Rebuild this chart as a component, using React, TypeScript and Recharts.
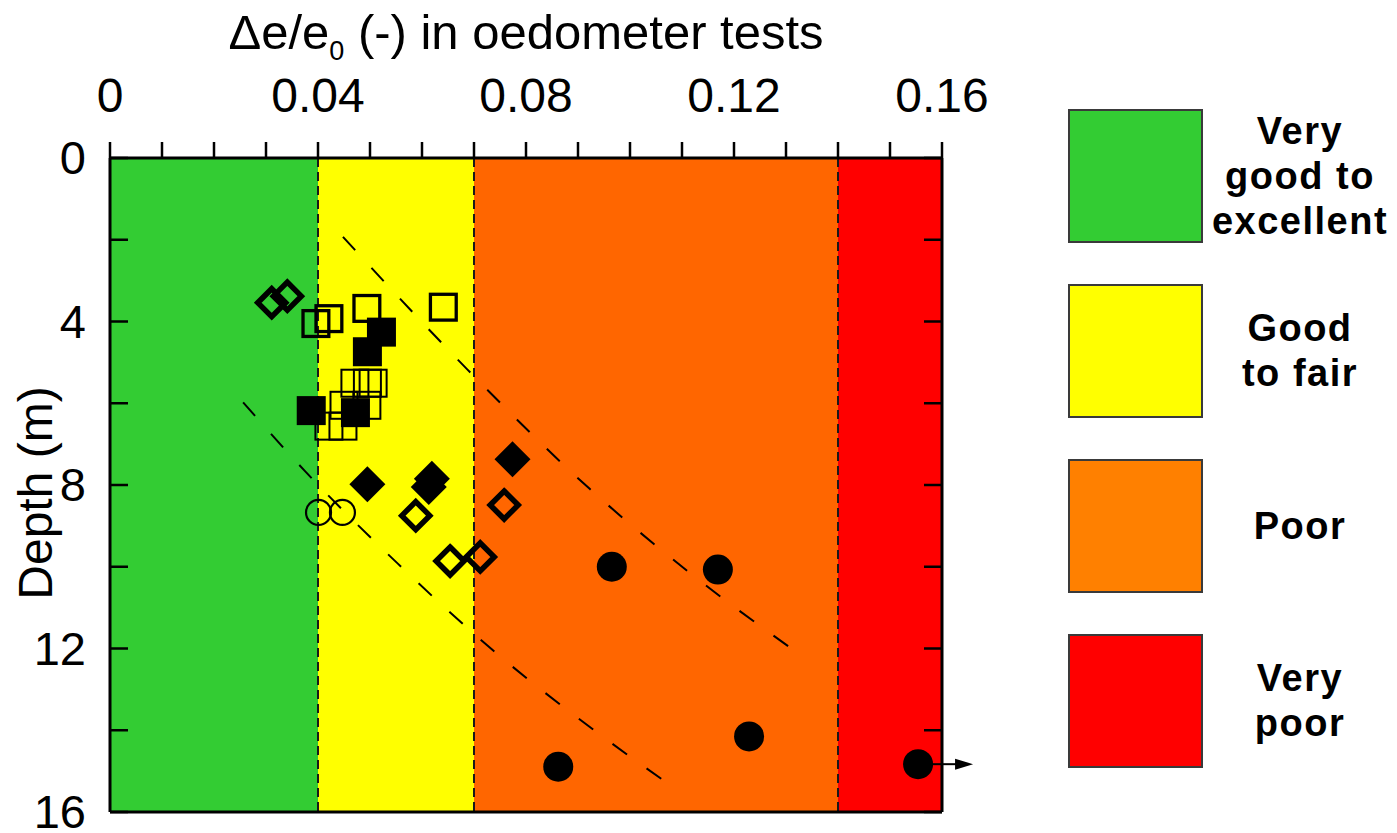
import React from 'react';
import {
  ScatterChart,
  Scatter,
  XAxis,
  YAxis,
  ReferenceArea,
  ReferenceLine,
  Legend,
} from 'recharts';

const FONT = '"Liberation Sans", Arial, Helvetica, sans-serif';

// ---------- axis ticks ----------
const xMinorTicks = [0, 0.01, 0.02, 0.03, 0.04, 0.05, 0.06, 0.07, 0.08, 0.09, 0.1, 0.11, 0.12, 0.13, 0.14, 0.15, 0.16];
const xLabelTicks = [0, 0.04, 0.08, 0.12, 0.16];
const yMinorTicks = [0, 2, 4, 6, 8, 10, 12, 14, 16];
const yLabelTicks = [0, 4, 8, 12, 16];

// ---------- quality classes ----------
const bandEdges = [0, 0.04, 0.07, 0.14, 0.16];
const bandColors = ['#33CC33', '#FFFF00', '#FF6600', '#FF0000'];
const boundaryLines = [0.04, 0.07, 0.14];
const legendLabels = [['Very', 'good to', 'excellent'], ['Good', 'to fair'], ['Poor'], ['Very', 'poor']];
const legendColors = ['#33CC33', '#FFFF00', '#FF8000', '#FF0000'];

// ---------- data (strain = Δe/e0, depth in m) ----------
const upperTrend = [
  { strain: 0.0448, depth: 1.93 },
  { strain: 0.0687, depth: 5.17 },
  { strain: 0.0923, depth: 8.1 },
  { strain: 0.1112, depth: 10.12 },
  { strain: 0.1327, depth: 12.15 },
];
const lowerTrend = [
  { strain: 0.0256, depth: 5.98 },
  { strain: 0.0375, depth: 7.66 },
  { strain: 0.0554, depth: 9.93 },
  { strain: 0.0737, depth: 12.05 },
  { strain: 0.0933, depth: 14.02 },
  { strain: 0.1077, depth: 15.34 },
];
const smallOpenSquares = [
  { strain: 0.0471, depth: 5.51 },
  { strain: 0.0495, depth: 5.51 },
  { strain: 0.0506, depth: 5.51 },
  { strain: 0.045, depth: 6.05 },
  { strain: 0.0494, depth: 6.05 },
  { strain: 0.0421, depth: 6.56 },
  { strain: 0.0448, depth: 6.56 },
];
const openSquares = [
  { strain: 0.0396, depth: 4.05 },
  { strain: 0.0421, depth: 3.93 },
  { strain: 0.0494, depth: 3.68 },
  { strain: 0.0641, depth: 3.65 },
];
const openCircles = [
  { strain: 0.0401, depth: 8.67 },
  { strain: 0.0447, depth: 8.67 },
];
const openDiamonds = [
  { strain: 0.0311, depth: 3.54 },
  { strain: 0.0341, depth: 3.38 },
  { strain: 0.0588, depth: 8.75 },
  { strain: 0.0758, depth: 8.49 },
  { strain: 0.0654, depth: 9.86 },
  { strain: 0.0712, depth: 9.76 },
];
const filledSquares = [
  { strain: 0.0522, depth: 4.26 },
  { strain: 0.0495, depth: 4.74 },
  { strain: 0.0387, depth: 6.18 },
  { strain: 0.0472, depth: 6.23 },
];
const filledDiamonds = [
  { strain: 0.0495, depth: 7.98 },
  { strain: 0.0619, depth: 7.85 },
  { strain: 0.0613, depth: 8.05 },
  { strain: 0.0774, depth: 7.37 },
];
const filledCircles = [
  { strain: 0.0965, depth: 10.0 },
  { strain: 0.1169, depth: 10.07 },
  { strain: 0.1229, depth: 14.15 },
  { strain: 0.0862, depth: 14.89 },
];
const offScaleCircles = [{ strain: 0.1554, depth: 14.83 }];

// ---------- marker shapes ----------
const diamondPts = (cx: number, cy: number, r: number) =>
  `${cx},${cy - r} ${cx + r},${cy} ${cx},${cy + r} ${cx - r},${cy}`;

const OpenDiamond = (p: any) => (
  <polygon points={diamondPts(p.cx, p.cy, 14)} fill="none" stroke="#000" strokeWidth={5.5} />
);
const FilledDiamond = (p: any) => <polygon points={diamondPts(p.cx, p.cy, 18)} fill="#000" />;
const OpenSquare = (p: any) => (
  <rect x={p.cx - 12.9} y={p.cy - 12.9} width={25.8} height={25.8} fill="none" stroke="#000" strokeWidth={3.3} />
);
const SmallOpenSquare = (p: any) => (
  <rect x={p.cx - 13.5} y={p.cy - 13.5} width={27} height={27} fill="none" stroke="#000" strokeWidth={2} />
);
const FilledSquare = (p: any) => <rect x={p.cx - 14.5} y={p.cy - 14.5} width={29} height={29} fill="#000" />;
const OpenCircle = (p: any) => <circle cx={p.cx} cy={p.cy} r={12.5} fill="none" stroke="#000" strokeWidth={2.2} />;
const FilledCircle = (p: any) => <circle cx={p.cx} cy={p.cy} r={15} fill="#000" />;
const OffScaleCircle = (p: any) => (
  <g>
    <circle cx={p.cx} cy={p.cy} r={15} fill="#000" />
    <line x1={p.cx + 14} y1={p.cy} x2={p.cx + 40} y2={p.cy} stroke="#000" strokeWidth={2} />
    <polygon points={`${p.cx + 55},${p.cy} ${p.cx + 37},${p.cy - 5.5} ${p.cx + 37},${p.cy + 5.5}`} fill="#000" />
  </g>
);
const NoDot = () => <g />;

// ---------- ticks and titles ----------
const isLabel = (list: number[], v: number) => list.some((t) => Math.abs(t - v) < 1e-9);

const TopTick = (p: any) => {
  const v = p.payload?.value;
  if (!isLabel(xLabelTicks, v)) return <g />;
  return (
    <text x={p.x} y={p.y - 30} textAnchor="middle" fontSize={48} fontFamily={FONT} fill="#000">
      {String(v)}
    </text>
  );
};
const LeftTick = (p: any) => {
  const v = p.payload?.value;
  return (
    <g>
      <line x1={p.x} y1={p.y} x2={p.x + 18} y2={p.y} stroke="#000" strokeWidth={2.5} />
      {isLabel(yLabelTicks, v) && (
        <text x={p.x - 24} y={p.y + 16} textAnchor="end" fontSize={47} fontFamily={FONT} fill="#000">
          {String(v)}
        </text>
      )}
    </g>
  );
};
const RightTick = (p: any) => (
  <line x1={p.x} y1={p.y} x2={p.x - 18} y2={p.y} stroke="#000" strokeWidth={2.5} />
);

const XTitle = (props: any) => {
  const vb = props.viewBox || { x: 110, y: 98, width: 832, height: 60 };
  const cx = vb.x + vb.width / 2;
  const by = vb.y + vb.height - 109;
  return (
    <text x={cx} y={by} textAnchor="middle" fontSize={49} fontFamily={FONT} fill="#000">
      <tspan>Δe/e</tspan>
      <tspan fontSize={27} dy={11}>0</tspan>
      <tspan dy={-11}> (-) in oedometer tests</tspan>
    </text>
  );
};
const YTitle = (props: any) => {
  const vb = props.viewBox || { x: 50, y: 158, width: 60, height: 654 };
  const cx = vb.x + 2;
  const cy = vb.y + vb.height / 2 + 8;
  return (
    <text
      transform={`translate(${cx},${cy}) rotate(-90)`}
      textAnchor="middle"
      fontSize={48}
      fontFamily={FONT}
      fill="#000"
    >
      Depth (m)
    </text>
  );
};

const QualityLegend = () => (
  <div style={{ position: 'relative', width: 329, height: 660, fontFamily: FONT }}>
    {legendColors.map((c, i) => (
      <React.Fragment key={i}>
        <div
          style={{
            position: 'absolute',
            left: 0,
            top: i * 175,
            width: 135,
            height: 134,
            boxSizing: 'border-box',
            border: '2px solid #3a3a3a',
            background: c,
          }}
        />
        <div
          style={{
            position: 'absolute',
            left: 132,
            top: i * 175,
            width: 200,
            height: 134,
            display: 'flex',
            flexDirection: 'column',
            justifyContent: 'center',
            alignItems: 'center',
            fontWeight: 'bold',
            fontSize: 38,
            lineHeight: '45px',
            letterSpacing: 1.5,
            color: '#000',
            whiteSpace: 'nowrap',
          }}
        >
          {legendLabels[i].map((l, j) => (
            <div key={j}>{l}</div>
          ))}
        </div>
      </React.Fragment>
    ))}
  </div>
);

const axisLineStyle = { stroke: '#000', strokeWidth: 3 };

export default function App() {
  return (
    <div style={{ position: 'absolute', left: 0, top: 0, width: 1397, height: 833, background: '#fff' }}>
      <ScatterChart width={1397} height={833} margin={{ top: 98, left: 50, right: 445, bottom: 20 }}>
        <XAxis
          xAxisId="top"
          orientation="top"
          type="number"
          dataKey="strain"
          domain={[0, 0.16]}
          ticks={xMinorTicks}
          interval={0}
          height={60}
          tickSize={16}
          tickMargin={0}
          axisLine={axisLineStyle}
          tickLine={{ stroke: '#000', strokeWidth: 2.5 }}
          tick={TopTick}
          label={XTitle}
        />
        <XAxis
          xAxisId="bottom"
          orientation="bottom"
          type="number"
          dataKey="strain"
          domain={[0, 0.16]}
          height={1}
          tick={false}
          tickLine={false}
          axisLine={axisLineStyle}
        />
        <YAxis
          yAxisId="left"
          orientation="left"
          type="number"
          dataKey="depth"
          domain={[0, 16]}
          reversed
          ticks={yMinorTicks}
          interval={0}
          width={60}
          tickSize={0}
          tickMargin={0}
          tickLine={false}
          axisLine={axisLineStyle}
          tick={LeftTick}
          label={YTitle}
        />
        <YAxis
          yAxisId="right"
          orientation="right"
          type="number"
          dataKey="depth"
          domain={[0, 16]}
          reversed
          ticks={yMinorTicks}
          interval={0}
          width={10}
          tickSize={0}
          tickMargin={0}
          tickLine={false}
          axisLine={axisLineStyle}
          tick={RightTick}
        />

        {bandColors.map((c, i) => (
          <ReferenceArea
            key={`band-${i}`}
            xAxisId="top"
            yAxisId="left"
            x1={bandEdges[i]}
            x2={bandEdges[i + 1]}
            fill={c}
            fillOpacity={1}
            stroke="none"
          />
        ))}
        {boundaryLines.map((v) => (
          <ReferenceLine
            key={`bl-${v}`}
            xAxisId="top"
            yAxisId="left"
            x={v}
            stroke="#1a1a1a"
            strokeWidth={2}
            strokeDasharray="9 5"
          />
        ))}

        <Scatter
          name="upper trend"
          data={upperTrend}
          xAxisId="bottom"
          yAxisId="right"
          line={{ stroke: '#000', strokeWidth: 2, strokeDasharray: '18 24' }}
          lineJointType="monotoneX"
          shape={NoDot}
          legendType="none"
          isAnimationActive={false}
        />
        <Scatter
          name="lower trend"
          data={lowerTrend}
          xAxisId="bottom"
          yAxisId="right"
          line={{ stroke: '#000', strokeWidth: 2, strokeDasharray: '18 24' }}
          lineJointType="monotoneX"
          shape={NoDot}
          legendType="none"
          isAnimationActive={false}
        />
        <Scatter data={smallOpenSquares} xAxisId="top" yAxisId="left" shape={SmallOpenSquare} isAnimationActive={false} />
        <Scatter data={openSquares} xAxisId="top" yAxisId="left" shape={OpenSquare} isAnimationActive={false} />
        <Scatter data={openCircles} xAxisId="top" yAxisId="left" shape={OpenCircle} isAnimationActive={false} />
        <Scatter data={openDiamonds} xAxisId="top" yAxisId="left" shape={OpenDiamond} isAnimationActive={false} />
        <Scatter data={filledSquares} xAxisId="top" yAxisId="left" shape={FilledSquare} isAnimationActive={false} />
        <Scatter data={filledDiamonds} xAxisId="top" yAxisId="left" shape={FilledDiamond} isAnimationActive={false} />
        <Scatter data={filledCircles} xAxisId="top" yAxisId="left" shape={FilledCircle} isAnimationActive={false} />
        <Scatter data={offScaleCircles} xAxisId="top" yAxisId="left" shape={OffScaleCircle} isAnimationActive={false} />

        <Legend
          layout="vertical"
          align="center"
          verticalAlign="middle"
          wrapperStyle={{ left: 1068, top: 109, width: 329, height: 660 }}
          content={QualityLegend}
        />
      </ScatterChart>
    </div>
  );
}
